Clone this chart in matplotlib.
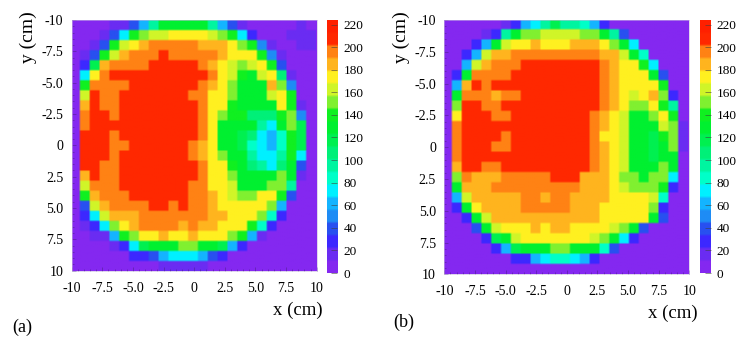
import numpy as np
import matplotlib
matplotlib.use("Agg")
import matplotlib.pyplot as plt
from matplotlib.colors import ListedColormap, BoundaryNorm

plt.rcParams['font.family'] = ['Liberation Serif', 'DejaVu Serif']

W, H = 749, 346

# one char per cell, index into the colour levels of the scale
rows_a = [
    "000011358bbbbb85310000010",
    "000136cdeeffffedc62000111",
    "0013cefghhhhhgggfdc410011",
    "013ceghhhihhhhhgfffc41000",
    "02aghhhhiiiiihgfedefc3000",
    "06fhiiiiiiiiiihfecbef9100",
    "0chhhhiiiiiiihgfdbbbgd400",
    "0eihhiiiiiiihhffdbbbefc00",
    "0gihhiiiiiiiihffcbbbbfc10",
    "0hiihiiiiiiiihfdcc999cd40",
    "0hiiiiiiiiiiihfbbbb86bda0",
    "0iiihiiiiiiiihfbba9657ca0",
    "0iiihhiiiiiihgfbba7657ca0",
    "0iiihiiiiiiihgfdbb8668c60",
    "0iihhiiiiiiiihffcb9869b30",
    "0gihhiiiiiiiihffdbbbbdb10",
    "0ehhhiiiiiiihhffebbbdd800",
    "0cghhhiiiiiihhgfeddffc300",
    "03eghhhhiihihhgfffffd5000",
    "026eggghhhhhhhggfffd72000",
    "0126dfghhhhghggfffc720000",
    "00115cdffgffgfffdc5100000",
    "0000126abbbddbba520000000",
    "0000002235666532000000000",
    "0000000001111100000000000",
]
rows_b = [
    "00000012568a8875200000000",
    "0000128bddeeeeddb83000000",
    "00025beffgfffgggfdb600000",
    "0025egghhhhhhhhhggeb70000",
    "005eghhhiiiiiiiihgffc6000",
    "02bhhhhiiiiiiiiihgfffb300",
    "05gihiiiiiiiiiiihgffffc00",
    "0bhhhghhiiiiiiiihgfefgd20",
    "0diihhiiiiiiiiiihgfddfc80",
    "0fiiihhiiiiiiiihgfebbdfc0",
    "0hiiiiiiiiiiiiihgfebbbed1",
    "0hiiiihiiiiiiiihffebbacd1",
    "0hiiihhiiiiiiiihgfebbabd1",
    "0hiiiiiiiiiiiiihgfebbabb0",
    "0giihhiiiiiiiiihgfebbbdb0",
    "0dhggghhhhhiiigggfddbdd60",
    "0bggghhhhhhhhhgggfedddc20",
    "05eggggghhghhggggffffe700",
    "02bfgggghhhhhgggfffffd200",
    "002begggggggggggfffffb300",
    "0003befffgfggffffedb30000",
    "00002abefffffffedb6200000",
    "0000025abbbddbbb730000000",
    "0000000225677652000000000",
    "0000000000000000000000000",
]

# mid value of each colour level
level_values = [5.6, 16.8, 28, 39.2, 50.4, 61.6, 72.8, 84, 95.2, 106.4,
                117.6, 128.8, 140, 151.2, 162.4, 173.6, 184.8, 196, 207.2, 218.4]
level_edges = [0, 11.2, 22.4, 33.6, 44.8, 56, 67.2, 78.4, 89.6, 100.8, 112,
               123.2, 134.4, 145.6, 156.8, 168, 179.2, 190.4, 201.6, 212.8, 224]
level_colors = ["#8428f0", "#6a2cf2", "#3c28ff", "#2850f0", "#1e8cf5",
                "#14b4ff", "#00f0ff", "#00ffc8", "#00f5a0", "#00f078",
                "#00f050", "#00f030", "#10f020", "#80f030", "#d0f528",
                "#fff020", "#ffb41e", "#ff8214", "#ff2800", "#ff2000"]
axis_ticks = [-10, -7.5, -5, -2.5, 0, 2.5, 5, 7.5, 10]
axis_labels = ["-10", "-7.5", "-5.0", "-2.5", "0", "2.5", "5.0", "7.5", "10"]
cbar_ticks = [0, 20, 40, 60, 80, 100, 120, 140, 160, 180, 200, 220]

cmap = ListedColormap(level_colors)
norm = BoundaryNorm(level_edges, cmap.N)


def to_grid(rows):
    chars = "0123456789abcdefghij"
    return np.array([[level_values[chars.index(c)] for c in r] for r in rows])


def box(x0, y0, x1, y1):
    # pixel box (y from the top) to figure fractions
    return [x0 / W, 1 - y1 / H, (x1 - x0) / W, (y1 - y0) / H]


def soft(ax, grid, extent):
    # the source figure is a slightly blurred scan, repeat each cell and blend in rgba
    fine = np.kron(grid, np.ones((5, 5)))
    ax.imshow(fine, cmap=cmap, norm=norm, extent=extent, aspect='auto', origin='upper',
              interpolation='bilinear', interpolation_stage='rgba')


def panel(fig, rows, ax_box, cb_box, name, xlab_pos, name_pos, ylab_pos):
    ax = fig.add_axes(box(*ax_box))
    ax.set_facecolor(level_colors[0])
    soft(ax, to_grid(rows), (-10.16, 9.84, 10, -10))
    ax.set_xlim(-10, 10)
    ax.set_ylim(10, -10)
    ax.set_xticks(axis_ticks)
    ax.set_xticklabels(axis_labels)
    ax.set_yticks(axis_ticks)
    ax.set_yticklabels(axis_labels)
    ax.set_xticks(np.arange(-10, 10.1, 0.5), minor=True)
    ax.set_yticks(np.arange(-10, 10.1, 0.5), minor=True)
    ax.tick_params(which='major', direction='in', length=3, width=0.4, color='#502090',
                   labelsize=10, top=False, right=False)
    ax.tick_params(which='minor', direction='in', length=1.5, width=0.4, color='#502090',
                   top=False, right=False)
    ax.tick_params(axis='x', pad=8)
    ax.tick_params(axis='y', pad=6)
    for s in ax.spines.values():
        s.set_linewidth(0.4)
        s.set_color('#c8b8e0')

    cax = fig.add_axes(box(*cb_box))
    bar = np.array(level_values)[::-1].reshape(-1, 1)
    fine = np.kron(bar, np.ones((5, 1)))
    cax.imshow(fine, cmap=cmap, norm=norm, extent=(0, 1, 0, level_edges[-1]), aspect='auto',
               origin='upper', interpolation='bilinear', interpolation_stage='rgba')
    cax.set_xticks([])
    cax.yaxis.tick_right()
    cax.set_yticks(cbar_ticks)
    cax.tick_params(direction='in', length=4, width=0.4, color='#404040', labelsize=9.5, pad=4.5)
    for s in cax.spines.values():
        s.set_visible(False)

    fig.text(xlab_pos[0] / W, 1 - xlab_pos[1] / H, "x (cm)", fontsize=13.5, ha='right', va='center')
    fig.text(name_pos[0] / W, 1 - name_pos[1] / H, name, fontsize=13, ha='left', va='center')
    fig.text(ylab_pos[0] / W, 1 - ylab_pos[1] / H, "y (cm)", fontsize=14, rotation=90,
             ha='center', va='center')


fig = plt.figure(figsize=(W / 100, H / 100), dpi=100)
panel(fig, rows_a, (71.7, 20, 316.7, 270.7), (326.7, 20, 337.3, 273), "(a)",
      (323, 310), (12, 327), (28, 37))
panel(fig, rows_b, (444.3, 20, 689.3, 274.3), (700, 20, 710.6, 273), "(b)",
      (698, 313), (393, 322), (401, 37))
fig.savefig("out.png", dpi=100)
